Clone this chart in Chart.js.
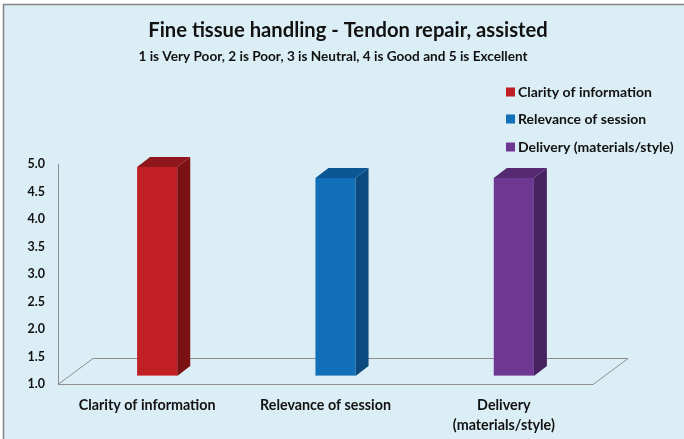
<!DOCTYPE html>
<html>
<head>
<meta charset="utf-8">
<script src="https://cdn.jsdelivr.net/npm/chart.js@4/dist/chart.umd.min.js"></script>
<style>
  html, body { margin: 0; padding: 0; background: #ffffff; }
  #wrap { width: 684px; height: 439px; position: relative; }
</style>
</head>
<body>
<div id="wrap"><canvas id="c" width="684" height="439"></canvas></div>
<script>
// ---- data ----
const titleText = "Fine tissue handling - Tendon repair, assisted";
const subtitleText = "1 is Very Poor, 2 is Poor, 3 is Neutral, 4 is Good and 5 is Excellent";
const categories = ["Clarity of information", "Relevance of session", ["Delivery", "(materials/style)"]];
const legendLabels = ["Clarity of information", "Relevance of session", "Delivery (materials/style)"];
const values = [4.8, 4.6, 4.6];
const yTicks = [1.0, 1.5, 2.0, 2.5, 3.0, 3.5, 4.0, 4.5, 5.0];

// ---- styles ----
const frontColors = ["#C01F24", "#1170B8", "#6E3892"];
const sideColors  = ["#7C1114", "#0A4A7E", "#472260"];
const topColors   = ["#8F171B", "#0B5794", "#552A73"];
const FONT = "Lato, 'Open Sans', sans-serif";
const W = 'bold';
const TEXT = "#111111";
const BAR_SHIFT_X = 10, BAR_SHIFT_Y = -8;   // bars sit partway into floor depth
const BAR_DX = 13, BAR_DY = -10;            // 3D depth of bars
const FLOOR_DX = 35, FLOOR_DY = -26;        // 3D depth of floor

const bgPlugin = {
  id: 'bg',
  beforeDraw(chart) {
    const ctx = chart.ctx;
    ctx.save();
    ctx.fillStyle = '#ffffff';
    ctx.fillRect(0, 0, chart.width, chart.height);
    ctx.fillStyle = '#DBEEF5';
    ctx.fillRect(3, 4, chart.width - 3, chart.height - 4);
    ctx.strokeStyle = '#848484';
    ctx.lineWidth = 1.5;
    ctx.beginPath();
    ctx.moveTo(3.5, chart.height);
    ctx.lineTo(3.5, 4.5);
    ctx.lineTo(chart.width, 4.5);
    ctx.stroke();
    ctx.restore();
  }
};

const threeD = {
  id: 'threeD',
  beforeDatasetsDraw(chart) {
    const ctx = chart.ctx;
    const a = chart.chartArea;
    ctx.save();
    ctx.strokeStyle = '#8E8E8E';
    ctx.lineWidth = 1;
    ctx.beginPath();
    ctx.moveTo(a.left, a.bottom + 0.5);
    ctx.lineTo(a.right, a.bottom + 0.5);
    ctx.lineTo(a.right + FLOOR_DX, a.bottom + FLOOR_DY + 0.5);
    ctx.lineTo(a.left + FLOOR_DX, a.bottom + FLOOR_DY + 0.5);
    ctx.closePath();
    ctx.stroke();
    ctx.restore();
    ctx.save();
    ctx.translate(BAR_SHIFT_X, BAR_SHIFT_Y);
  },
  afterDatasetsDraw(chart) {
    const ctx = chart.ctx;
    const meta = chart.getDatasetMeta(0);
    meta.data.forEach((bar, i) => {
      const p = bar.getProps(['x', 'y', 'base', 'width'], true);
      const l = p.x - p.width / 2, r = p.x + p.width / 2;
      ctx.fillStyle = sideColors[i];
      ctx.beginPath();
      ctx.moveTo(r, p.y);
      ctx.lineTo(r + BAR_DX, p.y + BAR_DY);
      ctx.lineTo(r + BAR_DX, p.base + BAR_DY);
      ctx.lineTo(r, p.base);
      ctx.closePath();
      ctx.fill();
      ctx.fillStyle = topColors[i];
      ctx.beginPath();
      ctx.moveTo(l, p.y);
      ctx.lineTo(l + BAR_DX, p.y + BAR_DY);
      ctx.lineTo(r + BAR_DX, p.y + BAR_DY);
      ctx.lineTo(r, p.y);
      ctx.closePath();
      ctx.fill();
      ctx.fillStyle = 'rgba(255,255,255,0.35)';
      ctx.fillRect(l, p.base - 1, p.width, 1);
    });
    ctx.restore();
  }
};

const textPlugin = {
  id: 'texts',
  afterDraw(chart) {
    const ctx = chart.ctx;
    ctx.save();
    ctx.fillStyle = TEXT;
    ctx.textAlign = 'center';
    ctx.textBaseline = 'middle';
    ctx.font = W + " 20.2px " + FONT;
    ctx.fillText(titleText, 348, 30);
    ctx.font = W + " 13.6px " + FONT;
    ctx.fillText(subtitleText, 333, 57);
    ctx.textAlign = 'left';
    ctx.font = W + " 14px " + FONT;
    const rowsY = [92, 119, 147];
    legendLabels.forEach((lab, i) => {
      ctx.fillStyle = frontColors[i];
      ctx.fillRect(506, rowsY[i] - 4.5, 9, 9);
      ctx.fillStyle = TEXT;
      ctx.fillText(lab, 518, rowsY[i]);
    });
    ctx.restore();
  }
};

new Chart(document.getElementById('c'), {
  type: 'bar',
  data: {
    labels: categories,
    datasets: [{
      data: values,
      base: yTicks[0],
      backgroundColor: frontColors,
      borderWidth: 0,
      barPercentage: 0.225,
      categoryPercentage: 1,
      clip: false
    }]
  },
  options: {
    responsive: false,
    animation: false,
    devicePixelRatio: 1,
    layout: { padding: { left: 0, right: 91, top: 164, bottom: 0 } },
    plugins: {
      legend: { display: false },
      title: { display: false },
      tooltip: { enabled: false }
    },
    scales: {
      x: {
        grid: { display: false, drawTicks: false },
        border: { display: false },
        ticks: {
          color: TEXT,
          font: { family: FONT, size: 14.3, weight: W, lineHeight: 1.35 },
          padding: 12,
          maxRotation: 0,
          autoSkip: false
        },
        afterFit(scale) { scale.height = 55; }
      },
      y: {
        min: yTicks[0],
        max: yTicks[yTicks.length - 1],
        afterBuildTicks(scale) { scale.ticks = yTicks.map(v => ({ value: v })); },
        grid: { display: false, drawTicks: false },
        border: { display: true, color: '#8E8E8E', width: 1 },
        ticks: {
          color: TEXT,
          font: { family: FONT, size: 12.5, weight: W },
          padding: 13,
          callback: v => Number(v).toFixed(1)
        },
        afterFit(scale) { scale.width = 58; }
      }
    }
  },
  plugins: [bgPlugin, threeD, textPlugin]
});
</script>
</body>
</html>
